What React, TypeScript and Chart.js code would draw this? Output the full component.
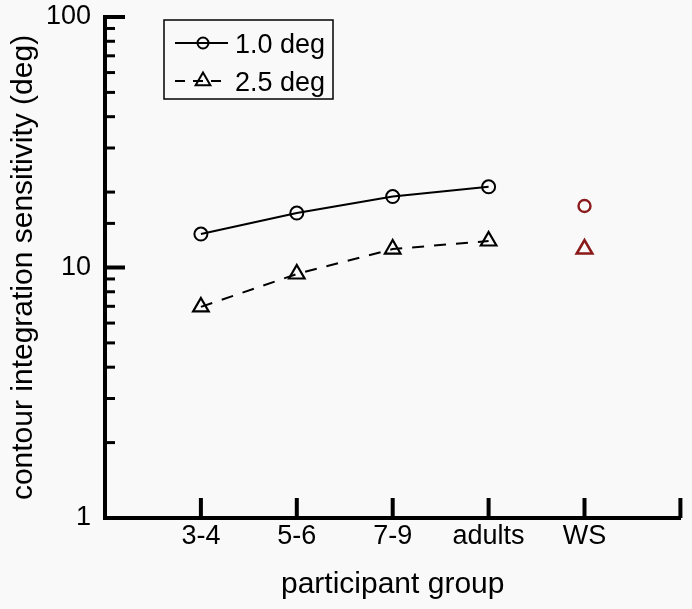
import React, { useEffect, useRef } from "react";
import { Chart, registerables } from "chart.js";

Chart.register(...registerables);

// ---- data ----
const groups = ["3-4", "5-6", "7-9", "adults", "WS"];
const sens10 = [13.6, 16.5, 19.2, 21.0]; // 1.0 deg, typical groups
const sens25 = [6.96, 9.42, 11.85, 12.76]; // 2.5 deg, typical groups
const wsSens10 = [17.6]; // WS, 1.0 deg
const wsSens25 = [11.85]; // WS, 2.5 deg
const legendLabels = ["1.0 deg", "2.5 deg"];
const yMajorTicks = [1, 10, 100];

const FONT = "'Liberation Sans', Arial, Helvetica, sans-serif";
const BG = "#f9f9f9";
const WS_COLOR = "#8b1a1a";

const bgPlugin = {
  id: "bg",
  beforeDraw(chart: any) {
    const { ctx, width, height } = chart;
    ctx.save();
    ctx.fillStyle = BG;
    ctx.fillRect(0, 0, width, height);
    ctx.restore();
  },
};

const ticksPlugin = {
  id: "inwardTicks",
  afterDraw(chart: any) {
    const { ctx, chartArea, scales } = chart;
    const xs = scales.x;
    const ys = scales.y;
    ctx.save();
    ctx.strokeStyle = "#000";
    ctx.lineCap = "butt";
    for (const t of ys.ticks) {
      const py = ys.getPixelForValue(t.value);
      const major = yMajorTicks.includes(t.value);
      ctx.lineWidth = major ? 4 : 3;
      ctx.beginPath();
      ctx.moveTo(chartArea.left, py);
      ctx.lineTo(chartArea.left + (major ? 20 : 10), py);
      ctx.stroke();
    }
    for (const t of xs.ticks) {
      if (t.value === 0) continue;
      const px = xs.getPixelForValue(t.value);
      ctx.lineWidth = 4;
      ctx.beginPath();
      ctx.moveTo(px, chartArea.bottom);
      ctx.lineTo(px, chartArea.bottom - 20);
      ctx.stroke();
    }
    ctx.restore();
  },
};

const legendPlugin = {
  id: "boxLegend",
  afterDraw(chart: any) {
    const { ctx, chartArea } = chart;
    const bx = chartArea.left + 59;
    const by = chartArea.top + 3;
    const bw = 169;
    const bh = 79;
    ctx.save();
    ctx.strokeStyle = "#000";
    ctx.lineWidth = 1.5;
    ctx.strokeRect(bx, by, bw, bh);
    const rows = [by + 23, by + 61];
    const x0 = bx + 11;
    const x1 = bx + 64;
    const mx = bx + 39;
    ctx.font = `27px ${FONT}`;
    ctx.fillStyle = "#000";
    ctx.textBaseline = "alphabetic";
    ctx.textAlign = "left";
    // row 1
    ctx.lineWidth = 2;
    ctx.setLineDash([]);
    ctx.beginPath();
    ctx.moveTo(x0, rows[0]);
    ctx.lineTo(x1, rows[0]);
    ctx.stroke();
    ctx.beginPath();
    ctx.arc(mx, rows[0], 5.5, 0, Math.PI * 2);
    ctx.stroke();
    ctx.fillText(legendLabels[0], bx + 71, rows[0] + 10);
    // row 2
    ctx.setLineDash([10, 8]);
    ctx.beginPath();
    ctx.moveTo(x0, rows[1]);
    ctx.lineTo(x1, rows[1]);
    ctx.stroke();
    ctx.setLineDash([]);
    const r = 8.5;
    ctx.beginPath();
    ctx.moveTo(mx, rows[1] - r);
    ctx.lineTo(mx + 0.866 * r, rows[1] + 0.5 * r);
    ctx.lineTo(mx - 0.866 * r, rows[1] + 0.5 * r);
    ctx.closePath();
    ctx.stroke();
    ctx.fillText(legendLabels[1], bx + 71, rows[1] + 10);
    ctx.restore();
  },
};

export default function App() {
  const ref = useRef<HTMLCanvasElement | null>(null);
  useEffect(() => {
    document.body.style.margin = "0";
    document.body.style.background = BG;
    const canvas = ref.current;
    if (!canvas) return;
    const typical = groups.slice(0, 4);
    const chart = new Chart(canvas, {
      type: "line",
      data: {
        datasets: [
          {
            label: legendLabels[0],
            data: typical.map((_, i) => ({ x: i + 1, y: sens10[i] })),
            borderColor: "#000",
            borderWidth: 2,
            pointStyle: "circle",
            pointRadius: 6.5,
            pointBorderWidth: 2,
            pointBorderColor: "#000",
            pointBackgroundColor: "transparent",
            tension: 0,
          },
          {
            label: legendLabels[1],
            data: typical.map((_, i) => ({ x: i + 1, y: sens25[i] })),
            borderColor: "#000",
            borderWidth: 2,
            borderDash: [12, 10],
            pointStyle: "triangle",
            pointRadius: 9,
            pointBorderWidth: 2.2,
            pointBorderColor: "#000",
            pointBackgroundColor: "transparent",
            tension: 0,
          },
          {
            label: "WS " + legendLabels[0],
            data: wsSens10.map((v) => ({ x: 5, y: v })),
            showLine: false,
            pointStyle: "circle",
            pointRadius: 6,
            pointBorderWidth: 2.4,
            pointBorderColor: WS_COLOR,
            pointBackgroundColor: "transparent",
          },
          {
            label: "WS " + legendLabels[1],
            data: wsSens25.map((v) => ({ x: 5, y: v })),
            showLine: false,
            pointStyle: "triangle",
            pointRadius: 9,
            pointBorderWidth: 2.6,
            pointBorderColor: WS_COLOR,
            pointBackgroundColor: "transparent",
          },
        ],
      },
      options: {
        animation: false,
        responsive: false,
        maintainAspectRatio: false,
        layout: { padding: { top: 17, right: 5, left: 0, bottom: 0 } },
        plugins: { legend: { display: false }, tooltip: { enabled: false } },
        scales: {
          x: {
            type: "linear",
            min: 0,
            max: 6,
            afterFit: (s: any) => {
              s.height = 91;
              s.paddingLeft = 0;
              s.paddingRight = 0;
              s.paddingTop = 0;
              s.paddingBottom = 0;
            },
            afterBuildTicks: (s: any) => {
              s.ticks = [0, 1, 2, 3, 4, 5, 6].map((v) => ({ value: v }));
            },
            ticks: {
              autoSkip: false,
              maxRotation: 0,
              padding: 2,
              color: "#000",
              font: { family: FONT, size: 27 },
              callback: (v: any) => groups[Number(v) - 1] ?? "",
            },
            grid: { display: false, drawTicks: false },
            border: { display: true, color: "#000", width: 4 },
            title: {
              display: true,
              text: "participant group",
              color: "#000",
              font: { family: FONT, size: 30 },
              padding: { top: 0, bottom: 6 },
            },
          },
          y: {
            type: "logarithmic",
            min: 1,
            max: 100,
            afterFit: (s: any) => {
              s.width = 105;
              s.paddingLeft = 0;
              s.paddingRight = 0;
              s.paddingTop = 0;
              s.paddingBottom = 0;
            },
            ticks: {
              autoSkip: false,
              padding: 14,
              color: "#000",
              font: { family: FONT, size: 27 },
              callback: (v: any) => (yMajorTicks.includes(Number(v)) ? String(v) : ""),
            },
            grid: { display: false, drawTicks: false },
            border: { display: true, color: "#000", width: 4 },
            title: {
              display: true,
              text: "contour integration sensitivity (deg)",
              color: "#000",
              font: { family: FONT, size: 30 },
              padding: { top: 6, bottom: 0 },
            },
          },
        },
      },
      plugins: [bgPlugin, ticksPlugin, legendPlugin],
    } as any);
    return () => chart.destroy();
  }, []);
  return (
    <div style={{ width: 692, height: 609 }}>
      <canvas ref={ref} width={692} height={609} style={{ display: "block", width: 692, height: 609 }} />
    </div>
  );
}
